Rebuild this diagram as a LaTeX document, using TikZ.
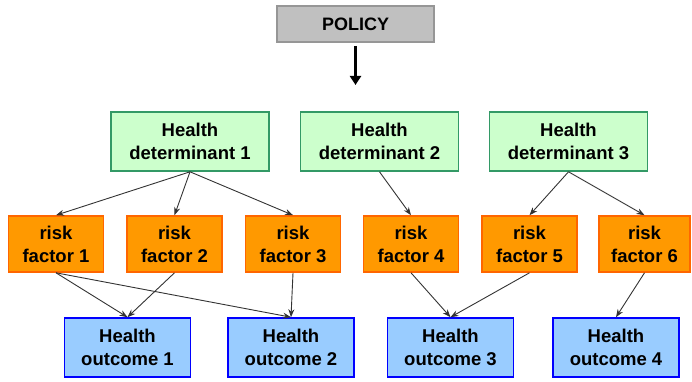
\documentclass[tikz,border=0pt]{standalone}
\usepackage{fontspec}
\setmainfont{Liberation Sans}
\usetikzlibrary{arrows.meta}
\definecolor{polfill}{HTML}{C0C0C0}
\definecolor{polline}{HTML}{969696}
\definecolor{detfill}{HTML}{CCFFCC}
\definecolor{detline}{HTML}{339966}
\definecolor{rffill}{HTML}{FF9900}
\definecolor{rfline}{HTML}{FF6600}
\definecolor{hofill}{HTML}{99CCFF}
\definecolor{holine}{HTML}{0000FF}
\definecolor{arrline}{HTML}{333333}
\tikzset{
  box/.style={draw, line width=1.6pt, inner sep=0pt, align=center,
    font=\fontsize{18.5}{23}\selectfont\bfseries},
  polbox/.style={box, fill=polfill, draw=polline, minimum width=157pt, minimum height=36pt,
    font=\fontsize{18}{22}\selectfont\bfseries},
  detbox/.style={box, fill=detfill, draw=detline, minimum width=158pt, minimum height=59pt},
  rfbox/.style={box, fill=rffill, draw=rfline, minimum width=95pt, minimum height=56pt},
  hobox/.style={box, fill=hofill, draw=holine, minimum width=126pt, minimum height=59pt},
  link/.style={draw=arrline, line width=0.9pt, -{Stealth[length=8pt,width=6pt]}},
}
\begin{document}
\begin{tikzpicture}[x=1pt,y=-1pt]
\useasboundingbox (0,0) rectangle (692,382);
\node[polbox] (pol) at (355.5,24) {POLICY};
\coordinate (pa) at (355.5,46);
\coordinate (pb) at (355.5,85);
\draw[line width=2.8pt, -{Triangle[length=9pt,width=11pt]}] (pa) -- (pb);

\node[detbox] (hd1) at (190,141.5) {Health\\determinant 1};
\node[detbox] (hd2) at (379.5,141.5) {Health\\determinant 2};
\node[detbox] (hd3) at (568.5,141.5) {Health\\determinant 3};

\node[rfbox] (rf1) at (56,244) {risk\\factor 1};
\node[rfbox] (rf2) at (174.5,244) {risk\\factor 2};
\node[rfbox] (rf3) at (293,244) {risk\\factor 3};
\node[rfbox] (rf4) at (411,244) {risk\\factor 4};
\node[rfbox] (rf5) at (529.5,244) {risk\\factor 5};
\node[rfbox, minimum width=91pt] (rf6) at (644.5,244) {risk\\factor 6};

\node[hobox] (ho1) at (127.5,347.5) {Health\\outcome 1};
\node[hobox] (ho2) at (291,347.5) {Health\\outcome 2};
\node[hobox] (ho3) at (450.5,347.5) {Health\\outcome 3};
\node[hobox] (ho4) at (616,347.5) {Health\\outcome 4};

\draw[link] (hd1.south) -- (rf1.north);
\draw[link] (hd1.south) -- (rf2.north);
\draw[link] (hd1.south) -- (rf3.north);
\draw[link] (hd2.south) -- (rf4.north);
\draw[link] (hd3.south) -- (rf5.north);
\draw[link] (hd3.south) -- (rf6.north);

\draw[link] (rf1.south) -- (ho1.north);
\draw[link] (rf1.south) -- (ho2.north);
\draw[link] (rf2.south) -- (ho1.north);
\draw[link] (rf3.south) -- (ho2.north);
\draw[link] (rf4.south) -- (ho3.north);
\draw[link] (rf5.south) -- (ho3.north);
\draw[link] (rf6.south) -- (ho4.north);
\end{tikzpicture}
\end{document}
